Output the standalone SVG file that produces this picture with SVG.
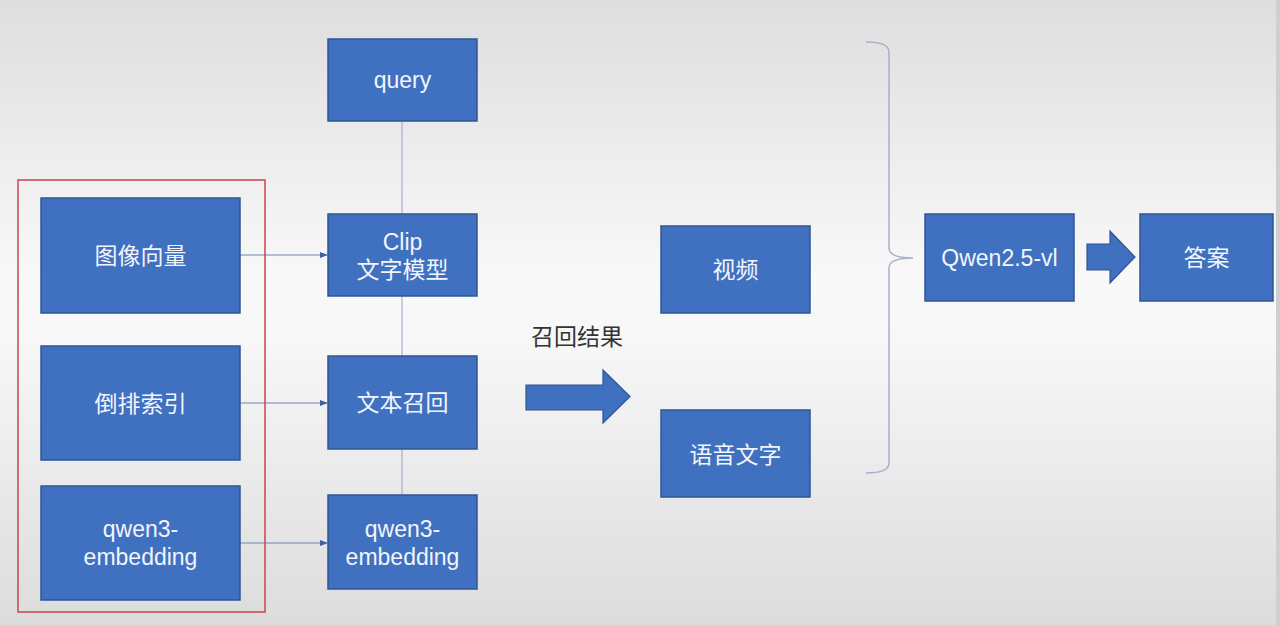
<svg xmlns="http://www.w3.org/2000/svg" width="1280" height="625" viewBox="0 0 1280 625">
<defs>
<linearGradient id="bg" x1="0" y1="0" x2="0" y2="1">
<stop offset="0" stop-color="#dedede"/>
<stop offset="0.45" stop-color="#f9f9f9"/>
<stop offset="0.55" stop-color="#f7f7f7"/>
<stop offset="1" stop-color="#dcdcdc"/>
</linearGradient>
<marker id="ah" viewBox="0 0 10 10" refX="9" refY="5" markerWidth="8" markerHeight="8" markerUnits="userSpaceOnUse" orient="auto">
<path d="M0,1 L10,5 L0,9 z" fill="#3f5f9f"/>
</marker>
<style>
.box{fill:#4070c0;stroke:#2f5594;stroke-width:1.5}
.t{font-family:"Liberation Sans","Noto Sans CJK SC",sans-serif;font-size:23px;fill:#f2f5fb;text-anchor:middle;dominant-baseline:central}
.c{stroke:#6e82b0;stroke-width:1;fill:none}
.v{stroke:#a8b0c8;stroke-width:1.2;fill:none}
.bigarrow{fill:#4070c0;stroke:#2f5594;stroke-width:1.2}
</style>
</defs>
<rect x="0" y="0" width="1280" height="625" fill="url(#bg)"/>
<rect x="1276" y="0" width="4" height="625" fill="#cfcfcf"/>

<g id="connectors">
<line class="v" x1="402" y1="121" x2="402" y2="214"/>
<line class="v" x1="402" y1="296" x2="402" y2="356"/>
<line class="v" x1="402" y1="449" x2="402" y2="495"/>
<line class="c" x1="240" y1="255" x2="327" y2="255" marker-end="url(#ah)"/>
<line class="c" x1="240" y1="403" x2="327" y2="403" marker-end="url(#ah)"/>
<line class="c" x1="240" y1="543" x2="327" y2="543" marker-end="url(#ah)"/>
<path class="bigarrow" d="M526,385 L603,385 L603,370 L630,396.5 L603,423 L603,410 L526,410 z"/>
<path class="bigarrow" d="M1087,244 L1110,244 L1110,231 L1135,257 L1110,283 L1110,270 L1087,270 z"/>
<path d="M866,42 Q889,42 889,52 L889,248 Q889,258 913,258 Q889,258 889,268 L889,463 Q889,473 866,473" fill="none" stroke="#a8b0c8" stroke-width="1.5"/>
</g>

<g id="group-red">
<rect x="18" y="180" width="247" height="432" fill="none" stroke="#c9454e" stroke-width="1.5"/>
</g>

<g id="n-image-vec">
<rect class="box" x="41" y="198" width="199" height="115"/>
<text class="t" x="140.5" y="256">图像向量</text>
</g>
<g id="n-inverted">
<rect class="box" x="41" y="346" width="199" height="114"/>
<text class="t" x="140.5" y="404">倒排索引</text>
</g>
<g id="n-qwen3-left">
<rect class="box" x="41" y="486" width="199" height="114"/>
<text class="t" x="140.5" y="529">qwen3-</text>
<text class="t" x="140.5" y="557">embedding</text>
</g>

<g id="n-query">
<rect class="box" x="328" y="39" width="149" height="82"/>
<text class="t" x="402.5" y="80">query</text>
</g>
<g id="n-clip">
<rect class="box" x="328" y="214" width="149" height="82"/>
<text class="t" x="402.5" y="242">Clip</text>
<text class="t" x="402.5" y="270">文字模型</text>
</g>
<g id="n-text-recall">
<rect class="box" x="328" y="356" width="149" height="93"/>
<text class="t" x="402.5" y="403">文本召回</text>
</g>
<g id="n-qwen3-mid">
<rect class="box" x="328" y="495" width="149" height="94"/>
<text class="t" x="402.5" y="529">qwen3-</text>
<text class="t" x="402.5" y="557">embedding</text>
</g>

<g id="label-recall">
<text x="577" y="337" font-family="'Liberation Sans','Noto Sans CJK SC',sans-serif" font-size="23" fill="#333333" text-anchor="middle" dominant-baseline="central">召回结果</text>
</g>

<g id="n-video">
<rect class="box" x="661" y="226" width="149" height="87"/>
<text class="t" x="735.5" y="270">视频</text>
</g>
<g id="n-speech">
<rect class="box" x="661" y="410" width="149" height="87"/>
<text class="t" x="735.5" y="455">语音文字</text>
</g>

<g id="n-qwen25">
<rect class="box" x="925" y="214" width="149" height="87"/>
<text class="t" x="999.5" y="258">Qwen2.5-vl</text>
</g>
<g id="n-answer">
<rect class="box" x="1140" y="214" width="133" height="87"/>
<text class="t" x="1206.5" y="258">答案</text>
</g>
</svg>
